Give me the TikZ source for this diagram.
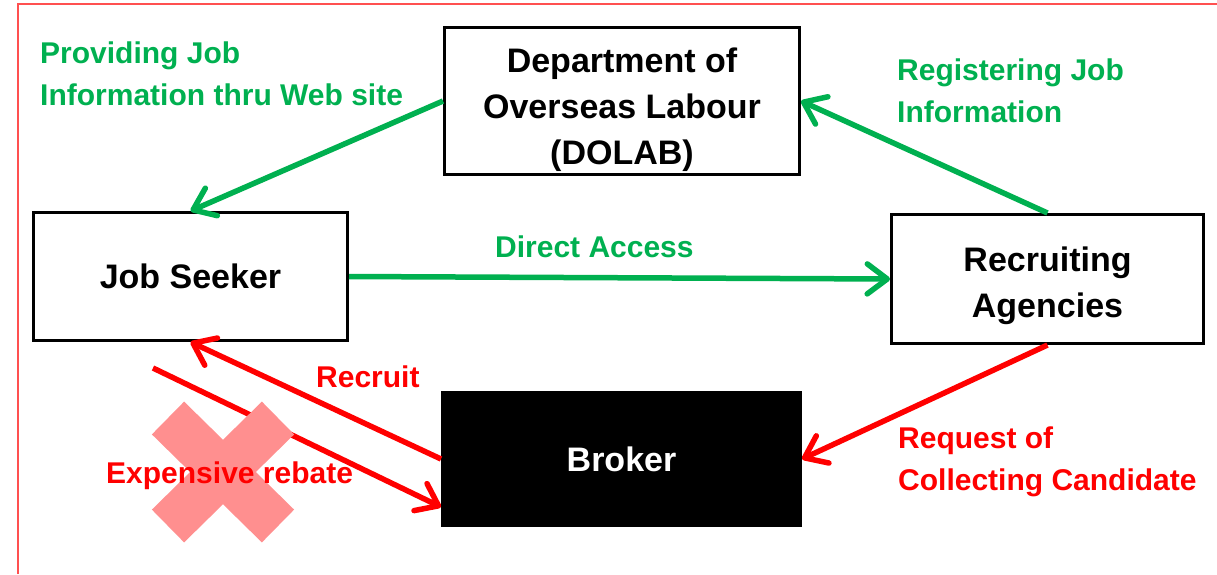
\documentclass[tikz,border=0pt]{standalone}
\usepackage{fontspec}
\setmainfont{Liberation Sans}
\usetikzlibrary{arrows.meta}
\definecolor{pptgreen}{RGB}{0,176,80}
\definecolor{pptred}{RGB}{255,0,0}
\definecolor{crosspink}{RGB}{255,143,143}
\definecolor{framered}{RGB}{255,80,80}
\begin{document}
\begin{tikzpicture}[x=1pt,y=-1pt,
  box/.style={draw,line width=3pt,align=center,font=\bfseries\fontsize{34}{46}\selectfont},
  lbl/.style={font=\bfseries\fontsize{30}{42}\selectfont,align=left,anchor=base west,inner sep=0pt},
  gline/.style={draw=pptgreen,line width=5.5pt,-{Straight Barb[round,length=20pt,width=30pt]}},
  rline/.style={draw=pptred,line width=5.5pt,-{Straight Barb[round,length=20pt,width=30pt]}}]
\useasboundingbox(0,0)rectangle(1217,574);
\draw[framered,line width=1.5pt](18,574)--(18,4)--(1217,4);
% boxes
\node[box,minimum width=355pt,minimum height=143pt,text height=133pt,text depth=7pt](dolab)at(622,101){Department of\\Overseas Labour\\(DOLAB)};
\node[box,minimum width=314pt,minimum height=128pt](seeker)at(190.5,276.5){Job Seeker};
\node[box,minimum width=312pt,minimum height=129pt,text height=83pt,text depth=7pt](agency)at(1047.5,279){Recruiting\\Agencies};
\node[box,fill=black,text=white,minimum width=358pt,minimum height=133pt](broker)at(621.5,459){Broker};
% arrows
\draw[gline](dolab.west)--(seeker.north);
\draw[gline](agency.north)--(dolab.east);
\draw[gline](seeker.east)--(agency.west);
\draw[rline](agency.south)--(broker.east);
\draw[rline](broker.west)--(seeker.south);
\coordinate(rebate)at(153,368);
\draw[rline](rebate)--([yshift=-48pt]broker.west);
\draw[crosspink,line width=46pt](168,418)--(278,526)(278,418)--(168,526);
% labels
\node[lbl,text=pptgreen](provide)at(40,105){Providing Job\\Information thru Web site};
\node[lbl,text=pptgreen](register)at(897,122){Registering Job\\Information};
\node[lbl,text=pptgreen](direct)at(495,257){Direct Access};
\node[lbl,text=pptred](recruit)at(316,387){Recruit};
\node[lbl,text=pptred](request)at(898,490){Request of\\Collecting Candidate};
\node[lbl,text=pptred](rebatetext)at(106,483){Expensive rebate};
\end{tikzpicture}
\end{document}
